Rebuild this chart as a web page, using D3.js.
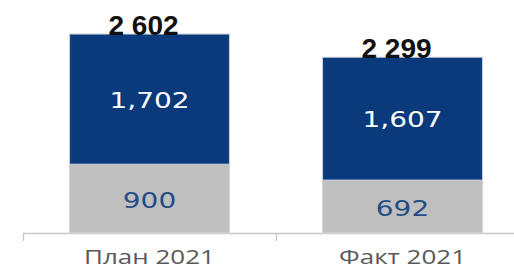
<!DOCTYPE html>
<html>
<head>
<meta charset="utf-8">
<script src="https://cdn.jsdelivr.net/npm/d3@7"></script>
<style>
  body { margin: 0; background: #fff; }
  svg { display: block; }
</style>
</head>
<body>
<svg id="chart" width="514" height="269"></svg>
<script>
// data
const categories = ["План 2021", "Факт 2021"];
const lowerValues = [900, 692];
const upperValues = [1702, 1607];
const totalLabels = ["2 602", "2 299"];

const svg = d3.select("svg#chart");
const baseY = 233;

const x = d3.scaleBand()
    .domain(categories)
    .range([23, 529])
    .paddingInner(0.368)
    .paddingOuter(0.184);

const y = d3.scaleLinear().domain([0, 2600]).range([baseY, 34.2]);

const rows = categories.map((c, i) => ({
    cat: c,
    low: lowerValues[i],
    up: upperValues[i],
    total: lowerValues[i] + upperValues[i],
    totalLabel: totalLabels[i]
}));

// the original picture is stretched sideways
const stretch = 1.3;
const fmt = d3.format(",");

// axis line + ticks at band edges
const axis = svg.append("g");
axis.append("line")
    .attr("x1", x.range()[0]).attr("x2", x.range()[1])
    .attr("y1", baseY + 0.5).attr("y2", baseY + 0.5)
    .attr("stroke", "#c8c8c8").attr("stroke-width", 1.3);
const edges = [x.range()[0], x.range()[0] + x.step(), x.range()[0] + 2 * x.step()];
axis.selectAll(".tick")
    .data(edges)
    .enter().append("line")
    .attr("x1", d => d + 0.5).attr("x2", d => d + 0.5)
    .attr("y1", baseY).attr("y2", baseY + 8)
    .attr("stroke", "#c8c8c8").attr("stroke-width", 1.3);

const g = svg.selectAll(".bar").data(rows).enter().append("g").attr("class", "bar");

g.append("rect")
    .attr("x", d => x(d.cat))
    .attr("width", x.bandwidth())
    .attr("y", d => y(d.low))
    .attr("height", d => y(0) - y(d.low))
    .attr("fill", "#bfbfbf")
    .attr("stroke", "#d6d6d6").attr("stroke-width", 1);

g.append("rect")
    .attr("x", d => x(d.cat))
    .attr("width", x.bandwidth())
    .attr("y", d => y(d.total))
    .attr("height", d => y(d.low) - y(d.total))
    .attr("fill", "#0b3a7c")
    .attr("stroke", "#c9cfd8").attr("stroke-width", 1);

function stretchedText(sel, cx, cy) {
    return sel.append("text")
        .attr("text-anchor", "middle")
        .attr("transform", d => `translate(${cx(d)},${cy(d)}) scale(${stretch},1)`);
}

stretchedText(g, d => x(d.cat) + x.bandwidth() / 2, d => (y(d.total) + y(d.low)) / 2 + 8.5)
    .attr("font-family", "DejaVu Sans")
    .attr("font-size", 21.5)
    .attr("fill", "#ffffff")
    .text(d => fmt(d.up));

stretchedText(g, d => x(d.cat) + x.bandwidth() / 2, d => (y(d.low) + y(0)) / 2 + 9.5)
    .attr("font-family", "DejaVu Sans")
    .attr("font-size", 21.5)
    .attr("fill", "#244d86")
    .text(d => fmt(d.low));

g.append("text")
    .attr("x", d => x(d.cat) + x.bandwidth() / 2 - 6)
    .attr("y", d => y(d.total) + 1)
    .attr("text-anchor", "middle")
    .attr("font-family", "Liberation Sans")
    .attr("font-weight", "bold")
    .attr("font-size", 28)
    .attr("fill", "#111")
    .text(d => d.totalLabel);

stretchedText(g, d => x(d.cat) + x.bandwidth() / 2, () => 263.5)
    .attr("font-family", "Open Sans")
    .attr("font-size", 20)
    .attr("fill", "#595959")
    .text(d => d.cat);
</script>
</body>
</html>
